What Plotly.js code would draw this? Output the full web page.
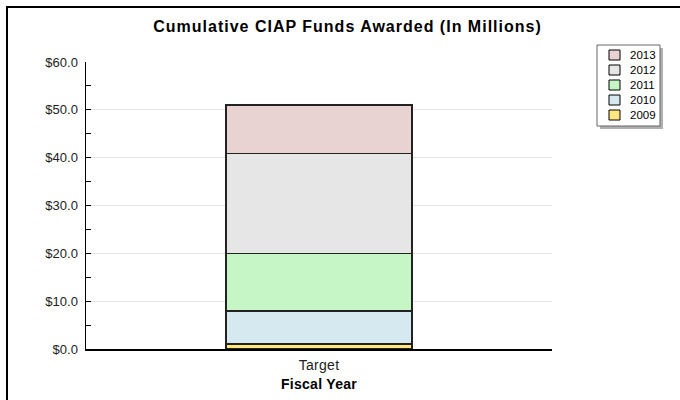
<!DOCTYPE html>
<html><head><meta charset="utf-8">
<script src="https://cdn.plot.ly/plotly-3.0.1.min.js"></script>
<style>
html,body{margin:0;padding:0;background:#fff;}
#wrap{position:relative;width:680px;height:400px;}
#chart{position:absolute;left:0;top:0;width:680px;height:400px;}
#frame{position:absolute;left:6px;top:6px;width:672px;height:392px;border:2px solid #000;border-right:none;pointer-events:none;}
#chart .gtitle{letter-spacing:1px;}
#chart .xtick text{letter-spacing:0.3px;}
#chart .xtitle{letter-spacing:0.3px;}
</style></head>
<body><div id="wrap"><div id="chart"></div><div id="frame"></div></div>
<script>
var categories = ["Target"];
var years = ["2009", "2010", "2011", "2012", "2013"];
var v2009 = [1.0];
var v2010 = [6.9];
var v2011 = [12.1];
var v2012 = [20.9];
var v2013 = [10.1];
var tickVals = [0, 10, 20, 30, 40, 50, 60];
var tickText = ["$0.0", "$10.0", "$20.0", "$30.0", "$40.0", "$50.0", "$60.0"];

var series = [v2009, v2010, v2011, v2012, v2013];
var colors = ["#ffe680", "#d7e9f0", "#c6f6c6", "#e6e6e6", "#e8d2d2"];

var M = {l:86, r:128, t:62, b:51}, W = 680, H = 400;
var pw = W - M.l - M.r, ph = H - M.t - M.b;
function px(x){ return (x - M.l) / pw; }
function py(y){ return (H - M.b - y) / ph; }

var traces = years.map(function(y, i){
  return {type:'bar', name:y, x:categories, y:series[i], width:0.4,
    marker:{color:colors[i], line:{color:'#222', width:1.5}}, hoverinfo:'skip', showlegend:false};
});

// custom legend (reversed order, like the reference)
var shapes = [
  {type:'rect', xref:'paper', yref:'paper', x0:px(600), x1:px(663), y0:py(129), y1:py(48), fillcolor:'#b0b0b0', line:{width:0}, layer:'above'},
  {type:'rect', xref:'paper', yref:'paper', x0:px(597), x1:px(660), y0:py(126), y1:py(45), fillcolor:'#fff', line:{color:'#666', width:1}, layer:'above'}
];
var annotations = [];
for (var k = 0; k < years.length; k++) {
  var idx = years.length - 1 - k;
  var cy = 55 + k * 15;
  shapes.push({type:'rect', xref:'paper', yref:'paper', x0:px(609), x1:px(620), y0:py(cy + 5), y1:py(cy - 5),
    fillcolor:colors[idx], line:{color:'#000', width:1}, layer:'above'});
  annotations.push({xref:'paper', yref:'paper', x:px(628), y:py(cy), xanchor:'left', yanchor:'middle',
    text:years[idx], showarrow:false, font:{size:11.5, color:'#000'}});
}

var layout = {
  width:W, height:H, barmode:'stack',
  paper_bgcolor:'#fff', plot_bgcolor:'#fff',
  margin:M,
  font:{family:'"Liberation Sans", Arial, sans-serif', size:12, color:'#222'},
  title:{text:'<b>Cumulative CIAP Funds Awarded (In Millions)</b>', font:{size:16, color:'#000'}, x:0.511, xref:'container', xanchor:'center', y:0.933, yref:'container', yanchor:'middle'},
  xaxis:{type:'category', range:[-0.5,0.5], showline:true, linecolor:'#000', linewidth:1.5, ticks:'inside', tickson:'boundaries', ticklen:6, tickcolor:'#333', showgrid:false, zeroline:false,
    ticklabelstandoff:3, tickfont:{size:14, color:'#222'},
    title:{text:'<b>Fiscal Year</b>', font:{size:14, color:'#000'}, standoff:7}},
  yaxis:{range:[0,60], tickvals:tickVals, ticktext:tickText, showline:true, linecolor:'#000', linewidth:1.5, ticks:'inside', ticklen:5, tickcolor:'#000',
    ticklabelstandoff:4,
    minor:{dtick:5, ticks:'inside', ticklen:5, tickcolor:'#000', showgrid:false},
    showgrid:true, gridcolor:'#e4e4e4', zeroline:false, tickfont:{size:13, color:'#222'}},
  showlegend:false,
  shapes:shapes,
  annotations:annotations
};
Plotly.newPlot('chart', traces, layout, {displayModeBar:false, staticPlot:true});
</script></body></html>
